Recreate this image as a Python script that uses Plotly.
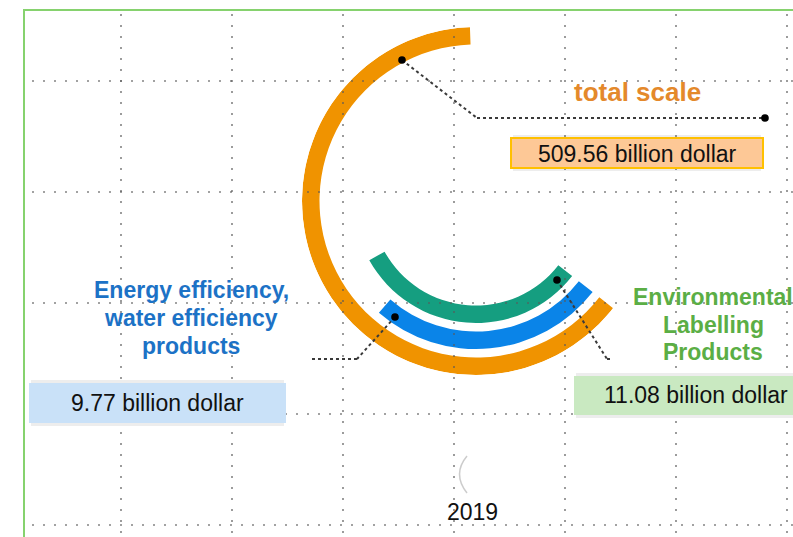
import plotly.graph_objects as go

# ---------------- data ----------------
categories = ["total scale",
              "Energy efficiency,<br>water efficiency<br>products",
              "Environmental<br>Labelling<br>Products"]
values = [509.56, 9.77, 11.08]          # billion dollar
value_labels = ["509.56 billion dollar", "9.77 billion dollar", "11.08 billion dollar"]
arc_span_deg = [230, 93, 113]           # angular extent of each ring as drawn
ring_order = [3, 2, 1]                  # 3 = outer ring, 1 = inner ring
year_label = "2019"

bar_colors = ["#F09300", "#0A84E8", "#159E80"]
title_colors = ["#E4892B", "#1C72C6", "#5BAE45"]
box_fill = ["#FDC896", "#C9E1F8", "#C9E9C1"]

W, H = 793, 537


def px(x):
    return x / W


def py(y):
    return 1 - y / H


# ring geometry (radial units == pixels)
ring_thick = 17.5
ring_step = 26
inner_base = 104.5

fig = go.Figure()
for i, cat in enumerate(categories):
    fig.add_trace(go.Barpolar(
        r=[ring_thick],
        base=[inner_base + (ring_order[i] - 1) * ring_step],
        theta=[arc_span_deg[i] / 2],
        width=[arc_span_deg[i]],
        marker=dict(color=bar_colors[i], line=dict(width=0)),
        name=cat.replace("<br>", " "),
        hovertext=[value_labels[i]],
        showlegend=False,
    ))

cx, cy, R = 476, 201, 174
fig.update_layout(
    width=W, height=H,
    margin=dict(l=0, r=0, t=0, b=0),
    paper_bgcolor="white",
    showlegend=False,
    polar=dict(
        domain=dict(x=[px(cx - R), px(cx + R)], y=[py(cy + R), py(cy - R)]),
        bgcolor="rgba(0,0,0,0)",
        hole=0,
        barmode="overlay",
        radialaxis=dict(visible=False, range=[0, R]),
        angularaxis=dict(visible=False, rotation=322, direction="clockwise"),
    ),
    font=dict(family="Liberation Sans, Arial, sans-serif"),
)

shapes = []
# dotted grid
grid_style = dict(color="rgba(90,90,90,0.75)", width=1.6, dash="2px,9px")
for k in range(7):
    x = 121 + 111 * k
    shapes.append(dict(type="line", xref="paper", yref="paper",
                       x0=px(x), x1=px(x), y0=py(14), y1=py(H + 5),
                       line=grid_style, layer="above"))
for k in range(5):
    y = 81 + 111 * k
    shapes.append(dict(type="line", xref="paper", yref="paper",
                       x0=px(32), x1=px(W + 5), y0=py(y), y1=py(y),
                       line=grid_style, layer="above"))

# green frame
shapes.append(dict(type="rect", xref="paper", yref="paper",
                   x0=px(24), x1=px(W + 20), y0=py(10), y1=py(H + 20),
                   line=dict(color="#86D26E", width=2), layer="below"))

# value boxes (with soft shadows)
boxes = [(511, 138, 763, 168), (29, 383, 286, 423), (574, 376, 805, 415)]
for i, (x0, y0, x1, y1) in enumerate(boxes):
    shapes.append(dict(type="rect", xref="paper", yref="paper",
                       x0=px(x0 + 2), x1=px(x1 - 2), y0=py(y0 - 3), y1=py(y1 + 3),
                       fillcolor="rgba(0,0,0,0.07)", line=dict(width=0), layer="above"))
    shapes.append(dict(type="rect", xref="paper", yref="paper",
                       x0=px(x0), x1=px(x1), y0=py(y0), y1=py(y1),
                       fillcolor=box_fill[i],
                       line=dict(color="#FFC000", width=2) if i == 0 else dict(width=0),
                       layer="above"))

# leader lines
leader_style = dict(color="#3a3a3a", width=2, dash="dot")
leaders = [
    [(402, 60), (477, 118), (765, 118)],
    [(395, 317), (357, 359), (309, 359)],
    [(557, 280), (607, 359), (612, 359)],
]
for pts in leaders:
    for (xa, ya), (xb, yb) in zip(pts[:-1], pts[1:]):
        shapes.append(dict(type="line", xref="paper", yref="paper",
                           x0=px(xa), y0=py(ya), x1=px(xb), y1=py(yb),
                           line=leader_style, layer="above"))
dot_pts = [(402, 60), (765, 118), (395, 317), (557, 280)]
for (x, y) in dot_pts:
    r = 3.8
    shapes.append(dict(type="circle", xref="paper", yref="paper",
                       x0=px(x - r), x1=px(x + r), y0=py(y + r), y1=py(y - r),
                       fillcolor="black", line=dict(width=0), layer="above"))

# faint grey arc above the year label
shapes.append(dict(type="path", xref="paper", yref="paper",
                   path=f"M {px(467)},{py(456)} Q {px(452)},{py(474)} {px(467)},{py(493)}",
                   line=dict(color="rgba(170,170,170,0.6)", width=1.5), layer="above"))

fig.update_layout(shapes=shapes)

ann = []
# titles, one annotation per line
title_pos = [(637, [92]), (191, [290, 318, 346]), (713, [297, 325, 352])]
title_sizes = [26, 23, 23]
for i, cat in enumerate(categories):
    lines = cat.split("<br>")
    x, ys = title_pos[i]
    for line, y in zip(lines, ys):
        ann.append(dict(x=px(x), y=py(y), xref="paper", yref="paper",
                        text=f"<b>{line}</b>", showarrow=False,
                        xanchor="center", yanchor="middle",
                        font=dict(size=title_sizes[i], color=title_colors[i],
                                  family="Liberation Sans, Arial, sans-serif")))

label_pos = [(637, 154), (157, 403), (696, 395)]
for i, lab in enumerate(value_labels):
    x, y = label_pos[i]
    ann.append(dict(x=px(x), y=py(y), xref="paper", yref="paper",
                    text=lab, showarrow=False, xanchor="center", yanchor="middle",
                    font=dict(size=23, color="#111111",
                              family="Liberation Sans, Arial, sans-serif")))

ann.append(dict(x=px(472), y=py(512), xref="paper", yref="paper",
                text=year_label, showarrow=False, xanchor="center", yanchor="middle",
                font=dict(size=23, color="#111111",
                          family="Liberation Sans, Arial, sans-serif")))
fig.update_layout(annotations=ann)

fig.write_html(
    "out.html",
    config={"displayModeBar": False},
    post_script="document.body.style.margin='0';document.body.style.overflow='hidden';",
)
